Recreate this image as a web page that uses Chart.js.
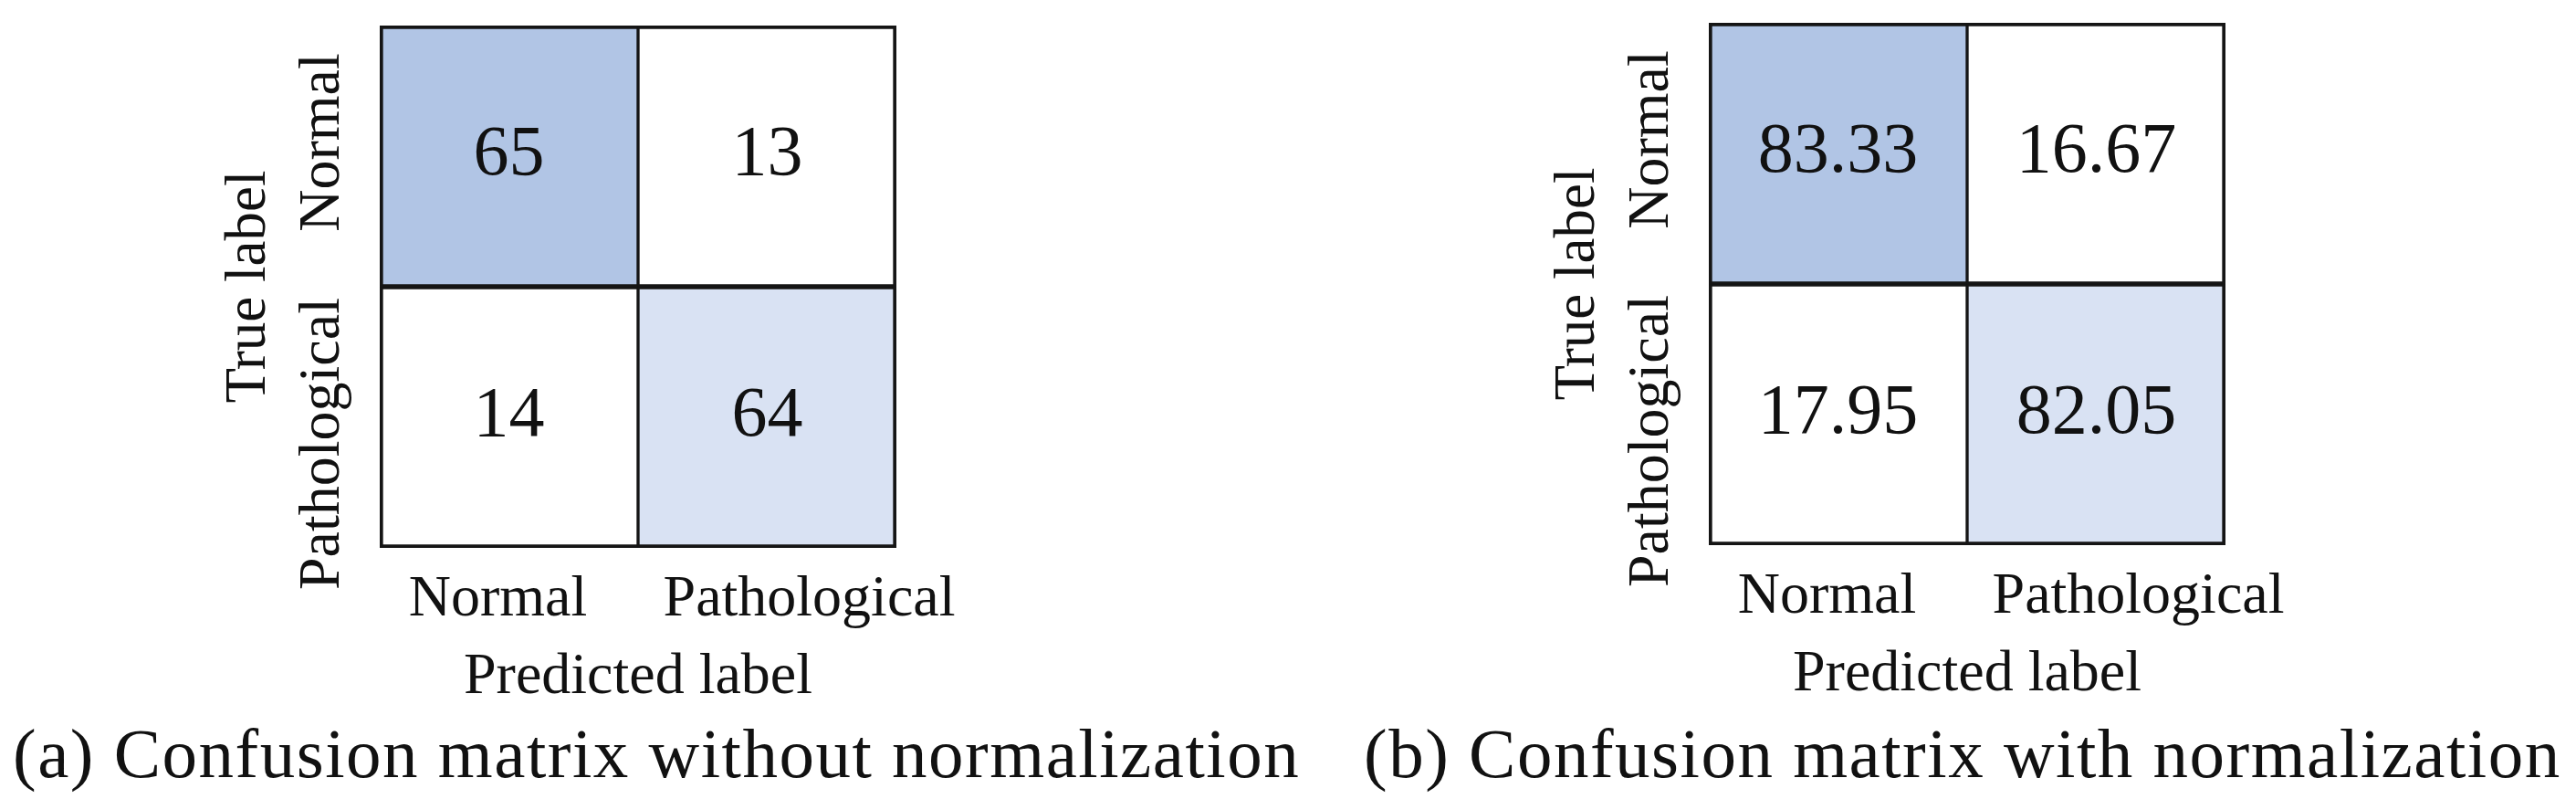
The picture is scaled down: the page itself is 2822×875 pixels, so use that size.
<!DOCTYPE html>
<html>
<head>
<meta charset="utf-8">
<script src="https://cdn.jsdelivr.net/npm/chart.js@4.4.0/dist/chart.umd.min.js"></script>
<style>
  body { margin: 0; background: #fff; width: 2822px; height: 875px; position: relative; overflow: hidden; }
  .panel { position: absolute; }
  .caption { position: absolute; top: 787px; font-family: 'Liberation Serif', serif; font-size: 77px; line-height: 77px; letter-spacing: 1.5px; color: #111; white-space: nowrap; }
</style>
</head>
<body>
<div class="panel" style="left:0; top:0;"><canvas id="chartA" width="1100" height="790"></canvas></div>
<div class="panel" style="left:1456px; top:-3px;"><canvas id="chartB" width="1100" height="790"></canvas></div>
<div class="caption" id="capA" style="left:14px;">(a) Confusion matrix without normalization</div>
<div class="caption" id="capB" style="left:1494px;">(b) Confusion matrix with normalization</div>

<script>
// labels
const predictedLabels = ['Normal', 'Pathological'];
const trueLabels = ['Normal', 'Pathological'];

// (a) counts, one row per true label
const countNormal = [65, 13];
const countPathological = [14, 64];

// (b) normalized, percent
const pctNormal = [83.33, 16.67];
const pctPathological = [17.95, 82.05];

const FONT = "'Liberation Serif', serif";
Chart.defaults.font.family = FONT;
Chart.defaults.color = '#111';

// cell fills by [row][col]
const cellFill = [['#b1c5e5', '#ffffff'], ['#ffffff', '#d9e2f3']];
const lineColor = '#151515';

// draws cell numbers plus the tick labels on both axes
const matrixText = {
    id: 'matrixText',
    afterDatasetsDraw(chart, args, opts) {
        const ctx = chart.ctx;
        const {x, y} = chart.scales;
        const area = chart.chartArea;
        const n = trueLabels.length;
        ctx.save();
        ctx.fillStyle = '#111';
        ctx.textAlign = 'center';

        // values in the cells
        ctx.textBaseline = 'middle';
        ctx.font = opts.cellFont + 'px ' + FONT;
        chart.data.datasets.forEach((ds, di) => {
            chart.getDatasetMeta(di).data.forEach((bar, i) => {
                ctx.fillText(opts.format(ds.values[i]), bar.x, (bar.y + bar.base) / 2);
            });
        });

        ctx.textBaseline = 'alphabetic';
        ctx.font = opts.labelFont + 'px ' + FONT;
        // predicted (x) labels
        predictedLabels.forEach((lab, i) => {
            ctx.fillText(lab, x.getPixelForValue(i) + opts.xShift[i], area.bottom + opts.xBaseline);
        });
        // true (y) labels, rotated
        trueLabels.forEach((lab, i) => {
            const yc = y.getPixelForValue(n - 0.5 - i) + opts.yShift[i];
            ctx.save();
            ctx.translate(area.left - opts.yBaseline, yc);
            ctx.rotate(-Math.PI / 2);
            ctx.fillText(lab, 0, 0);
            ctx.restore();
        });
        ctx.restore();
    }
};

function makeMatrix(canvasId, rows, format) {
    const n = trueLabels.length;
    const datasets = rows.map((vals, r) => ({
        label: trueLabels[r],
        values: vals,
        data: predictedLabels.map(() => [n - 1 - r, n - r]),
        backgroundColor: predictedLabels.map((_, c) => cellFill[r][c]),
        borderColor: lineColor,
        borderWidth: (c) => ({
            top: r === 0 ? 4 : 3,
            bottom: r === n - 1 ? 4 : 3,
            left: c.dataIndex === 0 ? 4 : 2,
            right: c.dataIndex === predictedLabels.length - 1 ? 4 : 2
        }),
        borderSkipped: false,
        grouped: false,
        barPercentage: 1,
        categoryPercentage: 1
    }));

    return new Chart(document.getElementById(canvasId), {
        type: 'bar',
        data: { labels: predictedLabels, datasets: datasets },
        options: {
            responsive: false,
            animation: false,
            events: [],
            layout: { padding: { left: 232, top: 28, right: 118, bottom: 5 } },
            plugins: {
                legend: { display: false },
                tooltip: { enabled: false },
                matrixText: {
                    cellFont: 78, labelFont: 64, format: format,
                    xBaseline: 74, xShift: [-12, 46],
                    yBaseline: 45, yShift: [-15, 29]
                }
            },
            scales: {
                x: {
                    grid: { display: false, drawTicks: false },
                    border: { display: false },
                    ticks: { display: false },
                    title: { display: true, text: 'Predicted label', font: { size: 64 } },
                    afterFit: (s) => { s.height = 185; }
                },
                y: {
                    min: 0,
                    max: n,
                    grid: { display: false, drawTicks: false },
                    border: { display: false },
                    ticks: { display: false },
                    title: { display: true, text: 'True label', font: { size: 63 } },
                    afterFit: (s) => { s.width = 184; }
                }
            }
        },
        plugins: [matrixText]
    });
}

makeMatrix('chartA', [countNormal, countPathological], (v) => String(v));
makeMatrix('chartB', [pctNormal, pctPathological], (v) => v.toFixed(2));
</script>
</body>
</html>
